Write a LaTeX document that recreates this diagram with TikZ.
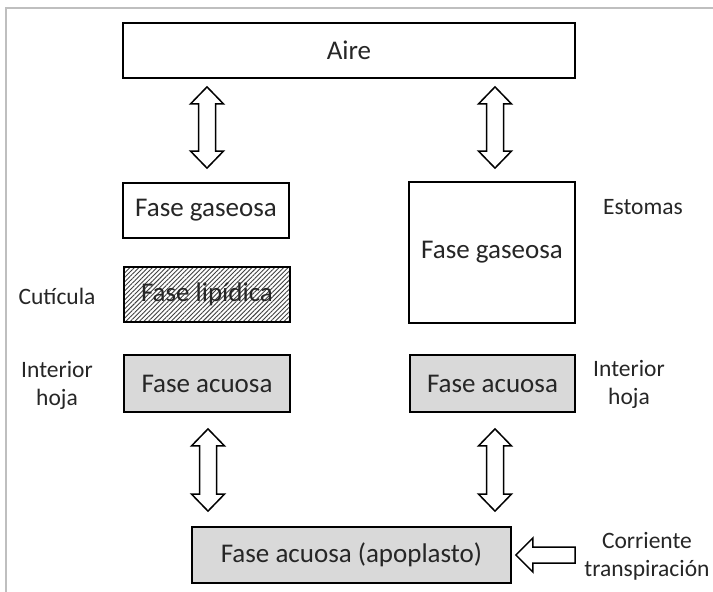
\documentclass[tikz,border=0pt]{standalone}
\usepackage{fontspec}
\setmainfont{Carlito}
\usetikzlibrary{calc,patterns.meta}
\tikzset{
  box/.style={draw=black, line width=1.8pt, rectangle, inner sep=0pt, font=\fontsize{27}{32}\selectfont, text=black!85},
  greybox/.style={box, fill=black!15},
  hatchbox/.style={box, pattern={Lines[angle=45,distance=3.2pt,line width=0.9pt]}, pattern color=black!75},
  lbl/.style={font=\fontsize{23.5}{28.5}\selectfont, text=black!85, inner sep=0pt},
  blockarrow/.style={draw=black, line width=1.5pt, fill=white, line join=miter},
  frameline/.style={draw=black!25, line width=2.5pt}
}
\newcommand\twolines[2]{\begin{tabular}{@{}c@{}}#1\\#2\end{tabular}}
\newcommand\vdarrow[2]{%
  \draw[blockarrow] let \p1=(#1), \p2=(#2) in
    (\x1,\y1) -- (\x1+16.5pt,\y1-17pt) -- (\x1+8.5pt,\y1-17pt) -- (\x1+8.5pt,\y2+17pt)
    -- (\x1+16.5pt,\y2+17pt) -- (\x1,\y2) -- (\x1-16.5pt,\y2+17pt) -- (\x1-8.5pt,\y2+17pt)
    -- (\x1-8.5pt,\y1-17pt) -- (\x1-16.5pt,\y1-17pt) -- cycle;}
\begin{document}
\begin{tikzpicture}[x=1pt,y=-1pt]
\useasboundingbox (0,0) rectangle (713,592);
\fill[white] (0,0) rectangle (713,592);
% frame
\coordinate (fA) at (6,592);
\coordinate (fB) at (6,8);
\coordinate (fC) at (713,8);
\draw[frameline] (fA) -- (fB) -- (fC);
% boxes
\node[box, minimum width=452pt, minimum height=55pt] (aire) at (349,50.5) {Aire};
\node[box, minimum width=166pt, minimum height=55pt] (gl) at (206,210.5) {Fase gaseosa};
\node[hatchbox, minimum width=166pt, minimum height=55pt] (lip) at (207,294.5) {Fase lipídica};
\node[box, minimum width=166pt, minimum height=141pt] (gr) at (492,252.5) {Fase gaseosa};
\node[greybox, minimum width=166pt, minimum height=57pt] (al) at (207,383.5) {Fase acuosa};
\node[greybox, minimum width=165pt, minimum height=57pt] (ar) at (492.5,383.5) {Fase acuosa};
\node[greybox, minimum width=319pt, minimum height=56pt] (apo) at (351.5,555) {Fase acuosa (apoplasto)};
% labels
\node[lbl] (est) at (643,207) {Estomas};
\node[lbl] (cut) at (57,296) {Cutícula};
\node[lbl] (ihl) at (57,386) {\twolines{Interior}{hoja}};
\node[lbl] (ihr) at (629,385) {\twolines{Interior}{hoja}};
\node[lbl] (cor) at (647,557) {\twolines{Corriente}{transpiración}};
% vertical double arrows
\coordinate (a1t) at ($(aire.south -| gl.north)+(1,8)$);
\coordinate (a1b) at ($(gl.north)+(1,-14)$);
\vdarrow{a1t}{a1b}
\coordinate (a2t) at ($(aire.south -| gr.north)+(3,8)$);
\coordinate (a2b) at ($(gr.north)+(3,-13)$);
\vdarrow{a2t}{a2b}
\coordinate (a3t) at ($(al.south)+(1,16)$);
\coordinate (a3b) at ($(apo.north -| al.south)+(1,-15)$);
\vdarrow{a3t}{a3b}
\coordinate (a4t) at ($(ar.south)+(2.5,16)$);
\coordinate (a4b) at ($(apo.north -| ar.south)+(2.5,-15)$);
\vdarrow{a4t}{a4b}
% horizontal arrow
\coordinate (htip) at ($(apo.east)+(4,0)$);
\coordinate (htail) at (575,555);
\draw[blockarrow] let \p1=(htip), \p2=(htail) in
  (\x1,\y1) -- (\x1+17pt,\y1+17pt) -- (\x1+17pt,\y1+8pt) -- (\x2,\y1+8pt)
  -- (\x2,\y1-8pt) -- (\x1+17pt,\y1-8pt) -- (\x1+17pt,\y1-17pt) -- cycle;
\end{tikzpicture}
\end{document}
